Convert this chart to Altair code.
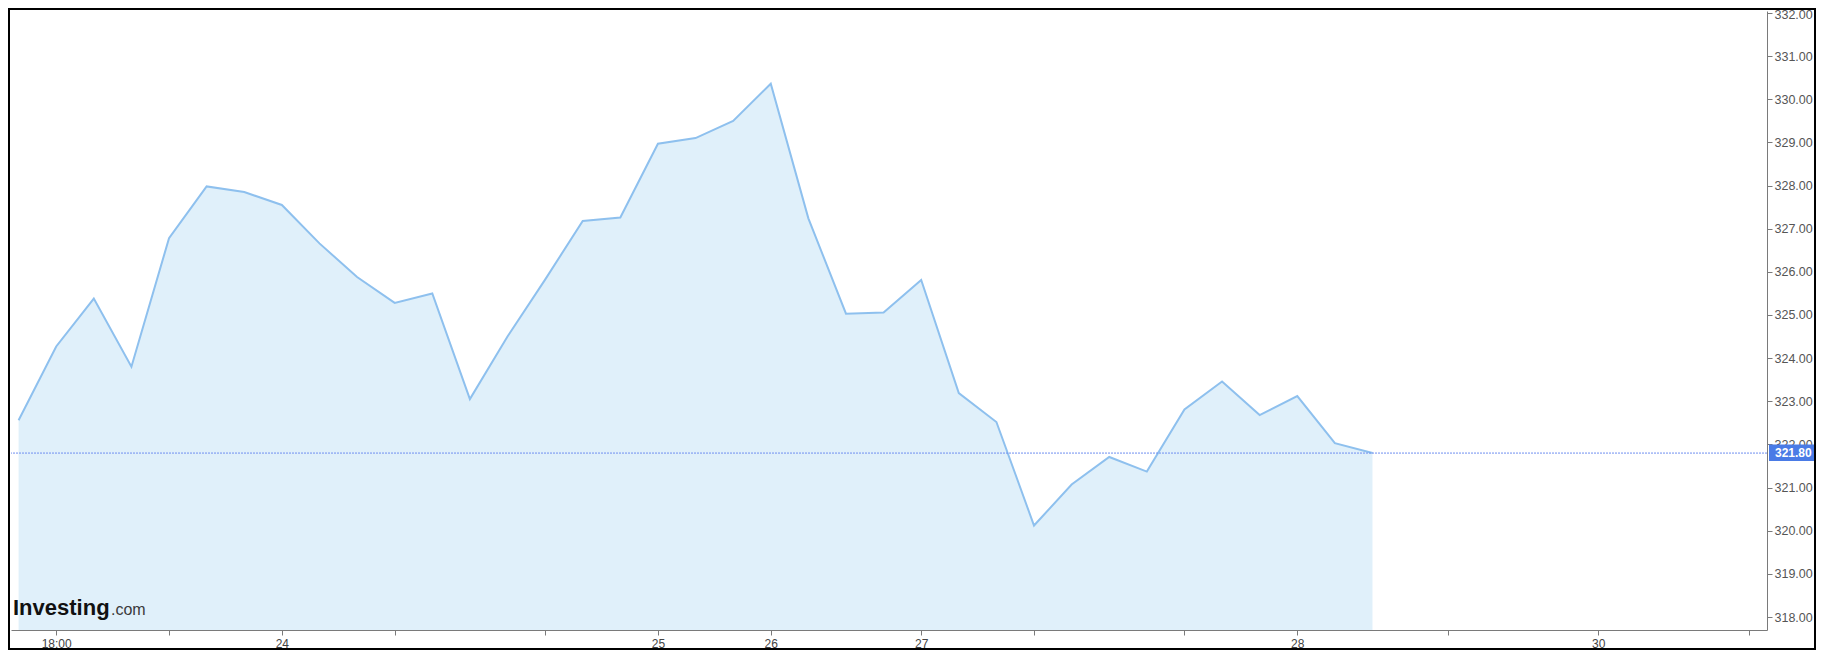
import altair as alt
import pandas as pd

# ---- data ----
prices = [322.56, 324.27, 325.38, 323.80, 326.78, 327.98, 327.85, 327.55, 326.66, 325.88,
          325.28, 325.50, 323.05, 324.50, 325.82, 327.18, 327.26, 328.97, 329.10, 329.50,
          330.36, 327.24, 325.03, 325.06, 325.81, 323.19, 322.52, 320.12, 321.07, 321.71,
          321.37, 322.81, 323.46, 322.68, 323.12, 322.03, 321.80]
steps = list(range(len(prices)))
tick_positions = [1, 4, 7, 10, 14, 17, 20, 24, 27, 31, 34, 38, 42, 46]
label_positions = [1, 7, 17, 20, 24, 34, 42]
label_texts = ["18:00", "24", "25", "26", "27", "28", "30"]
y_ticks = list(range(318, 333))
last_price = 321.80
last_price_text = "321.80"
logo_main = "Investing"
logo_suffix = ".com"

# ---- layout ----
W, H = 1756, 619
PAD = {"left": 3, "top": 3, "right": 49, "bottom": 20}
X_DOMAIN = [-0.202, 46.49]
Y_DOMAIN = [317.699, 332.046]

df = pd.DataFrame({"i": steps, "price": prices})
one = pd.DataFrame({"k": [0]})

label_expr = ""
for p, t in zip(label_positions, label_texts):
    label_expr += f"datum.value == {p} ? '{t}' : "
label_expr += "''"

xscale = alt.Scale(domain=X_DOMAIN, nice=False, zero=False)
yscale = alt.Scale(domain=Y_DOMAIN, nice=False, zero=False)

x_axis = alt.Axis(orient="bottom", values=tick_positions, labelExpr=label_expr, title=None,
                  grid=False, domainColor="#7a7a7a", tickColor="#7a7a7a", tickSize=5,
                  labelColor="#444444", labelFontSize=12, labelFont="Liberation Sans",
                  labelPadding=3, labelFlush=False, labelOverlap=False, zindex=1)
y_axis = alt.Axis(orient="right", values=y_ticks, format=".2f", title=None, grid=False,
                  domainColor="#7a7a7a", tickColor="#7a7a7a", tickSize=5,
                  labelColor="#555555", labelFontSize=12.5, labelFont="Liberation Sans",
                  labelPadding=2, labelFlush=3, labelFlushOffset=4, labelOverlap=False)

X = alt.X("i:Q", scale=xscale, axis=x_axis)
Y = alt.Y("price:Q", scale=yscale, axis=y_axis)

base = alt.Chart(df).encode(x=X, y=Y)
area = base.mark_area(color="#e0f0fa", opacity=1, clip=True)
line = base.mark_line(color="#8ec0ee", strokeWidth=2, clip=True)

rule = alt.Chart(one).mark_rule(color="#6f8ff0", strokeDash=[2, 1], strokeWidth=1).encode(
    y=alt.datum(last_price),
)
price_box = alt.Chart(one).mark_rect(color="#4a7be6", clip=False, yOffset=-8.5, y2Offset=8).encode(
    x=alt.value(W + 2), x2=alt.value(W + 48),
    y=alt.datum(last_price), y2=alt.datum(last_price),
)
price_text = alt.Chart(one).mark_text(text=last_price_text, color="white", align="left",
                                      baseline="middle", fontSize=12, fontWeight="bold",
                                      font="Liberation Sans", clip=False).encode(
    x=alt.value(W + 8), y=alt.datum(last_price),
)
logo1 = alt.Chart(one).mark_text(text=logo_main, color="#111111", align="left", baseline="alphabetic",
                                 fontSize=22, fontWeight="bold", font="Liberation Sans").encode(
    x=alt.value(2), y=alt.value(604),
)
logo2 = alt.Chart(one).mark_text(text=logo_suffix, color="#3a3a3a", align="left", baseline="alphabetic",
                                 fontSize=16, font="Liberation Sans").encode(
    x=alt.value(100), y=alt.value(604),
)
frame = alt.Chart(one).mark_rect(fillOpacity=0, stroke="black", strokeWidth=2, clip=False).encode(
    x=alt.value(-2), x2=alt.value(W + PAD["right"] - 1),
    y=alt.value(-2), y2=alt.value(H + PAD["bottom"] - 1),
)

chart = alt.layer(area, line, rule, price_box, price_text, logo1, logo2, frame).properties(
    width=W, height=H, padding=PAD, autosize=alt.AutoSizeParams(type="none"),
    background="white",
).configure_view(stroke=None)

chart.save("out.html", embed_options={"renderer": "svg", "actions": False})
